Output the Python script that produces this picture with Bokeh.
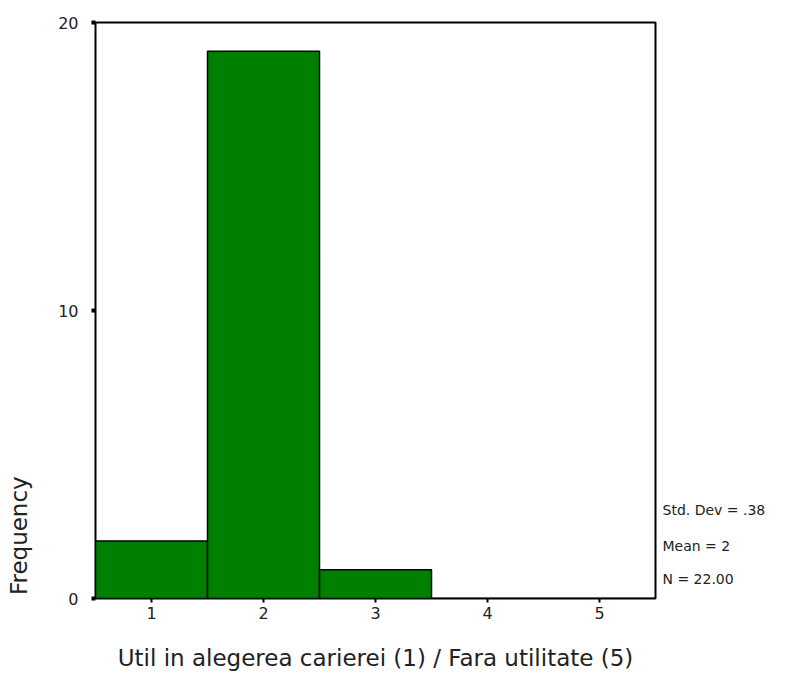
from bokeh.plotting import figure
from bokeh.models import Range1d, FixedTicker, LinearAxis, ColumnDataSource
from bokeh.embed import file_html
from bokeh.resources import INLINE

categories = [1, 2, 3, 4, 5]
frequencies = [2, 19, 1, 0, 0]
y_ticks = [0, 10, 20]
x_label = "Util in alegerea carierei (1) / Fara utilitate (5)"
y_label = "Frequency"
stats = ["Std. Dev = .38", "Mean = 2", "N = 22.00"]

FONT = "DejaVu Sans"
TXT = "#222222"

p = figure(width=787, height=690, output_backend="svg", toolbar_location=None,
           x_range=Range1d(0.5, 5.5), y_range=Range1d(0, 20),
           min_border_left=95, min_border_right=132, min_border_top=22, min_border_bottom=92)
p.xgrid.visible = False
p.ygrid.visible = False
p.outline_line_color = "black"
p.outline_line_width = 2
p.background_fill_color = "white"
p.border_fill_color = "white"

src = ColumnDataSource(dict(x=categories, top=frequencies))
p.vbar(x="x", top="top", width=1.0, bottom=0, source=src,
       fill_color="#008000", line_color="black", line_width=1.5)

p.xaxis.ticker = FixedTicker(ticks=categories)
p.yaxis.ticker = FixedTicker(ticks=y_ticks)
for ax in (p.xaxis[0], p.yaxis[0]):
    ax.axis_line_color = None
    ax.minor_tick_line_color = None
    ax.major_tick_in = 0
    ax.major_tick_out = 4
    ax.major_tick_line_color = "black"
    ax.major_label_text_font = FONT
    ax.major_label_text_font_size = "16px"
    ax.major_label_text_color = TXT
p.xaxis.major_tick_line_width = 2
p.yaxis.major_tick_line_width = 4

p.xaxis.axis_label = x_label
p.xaxis.axis_label_text_font = FONT
p.xaxis.axis_label_text_font_size = "23px"
p.xaxis.axis_label_text_font_style = "normal"
p.xaxis.axis_label_text_color = TXT
p.xaxis.axis_label_standoff = 23
p.xaxis.major_label_standoff = 4
p.yaxis.major_label_standoff = 13

# y-axis title placed low on the left, as in the original
stat_pos = [3.08, 1.83, 0.69]
freq_pos = [2.18]
ax_freq = LinearAxis(ticker=FixedTicker(ticks=freq_pos),
                     major_label_overrides={freq_pos[0]: y_label},
                     major_label_orientation="vertical",
                     axis_line_color=None, major_tick_line_color=None,
                     minor_tick_line_color=None, major_label_standoff=17,
                     major_label_text_font=FONT, major_label_text_font_size="23px",
                     major_label_text_color=TXT)
p.add_layout(ax_freq, "left")

ax_stats = LinearAxis(ticker=FixedTicker(ticks=stat_pos),
                      major_label_overrides={v: s for v, s in zip(stat_pos, stats)},
                      axis_line_color=None, major_tick_line_color=None,
                      minor_tick_line_color=None, major_label_standoff=1,
                      major_label_text_font=FONT, major_label_text_font_size="14px",
                      major_label_text_color=TXT)
p.add_layout(ax_stats, "right")

open("out.html", "w").write(file_html(p, INLINE))
